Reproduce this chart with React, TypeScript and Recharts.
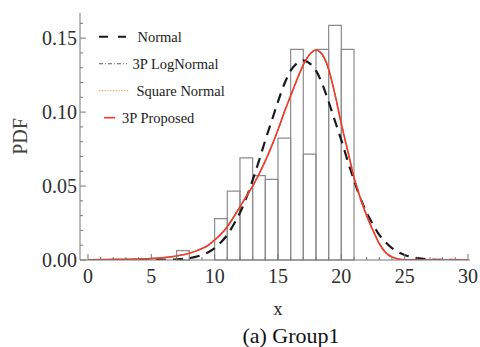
import React from "react";
import { ComposedChart, Line, XAxis, YAxis, ReferenceArea, Legend } from "recharts";

const xGrid = [
  0, 1, 2, 3, 4, 5, 6, 7, 7.5, 8, 8.5, 9, 9.5, 10, 10.5, 11, 11.5, 12, 12.5, 13,
  13.5, 14, 14.5, 15, 15.5, 16, 16.5, 17, 17.5, 18, 18.5, 19, 19.5, 20, 20.5, 21,
  21.5, 22, 22.5, 23, 23.5, 24, 24.5, 25, 25.5, 26, 27, 28, 29, 30,
];

const normalPdf = [
  0, 0, 0, 0, 0, 0, 0.0001, 0.0004, 0.0007, 0.0013, 0.0021, 0.0034, 0.0053, 0.0081,
  0.012, 0.017, 0.024, 0.032, 0.042, 0.054, 0.067, 0.081, 0.094, 0.107, 0.119, 0.128,
  0.133, 0.135, 0.133, 0.128, 0.119, 0.107, 0.094, 0.081, 0.067, 0.054, 0.042, 0.032,
  0.024, 0.017, 0.012, 0.0081, 0.0053, 0.0034, 0.0021, 0.0013, 0.0004, 0.0001, 0, 0,
];

const logNormalPdf = [
  0.0002, 0.0003, 0.0004, 0.0005, 0.0007, 0.001, 0.0016, 0.0027, 0.0035, 0.0045,
  0.006, 0.0078, 0.0101, 0.0135, 0.0176, 0.0226, 0.029, 0.036, 0.043, 0.05, 0.058,
  0.067, 0.077, 0.088, 0.1, 0.111, 0.122, 0.132, 0.139, 0.1415, 0.1385, 0.1285, 0.112,
  0.092, 0.074, 0.056, 0.042, 0.03, 0.02, 0.011, 0.005, 0.002, 0.0007, 0.0002,
  0.0001, 0, 0, 0, 0, 0,
];

const squareNormalPdf = [
  0.0001, 0.0002, 0.0003, 0.0004, 0.0006, 0.0009, 0.0015, 0.0026, 0.0034, 0.0044,
  0.0059, 0.0077, 0.01, 0.0134, 0.0175, 0.0224, 0.029, 0.036, 0.043, 0.05, 0.058,
  0.067, 0.077, 0.088, 0.1, 0.111, 0.122, 0.132, 0.139, 0.142, 0.139, 0.129, 0.1125,
  0.0925, 0.0745, 0.0565, 0.0425, 0.0305, 0.0205, 0.0115, 0.0055, 0.0022, 0.0008,
  0.0002, 0.0001, 0, 0, 0, 0, 0,
];

const proposedPdf = [
  0.0002, 0.0003, 0.0004, 0.0005, 0.0007, 0.001, 0.0016, 0.0027, 0.0035, 0.0045,
  0.006, 0.0078, 0.01, 0.0135, 0.0175, 0.0225, 0.029, 0.036, 0.043, 0.05, 0.058,
  0.067, 0.077, 0.088, 0.1, 0.111, 0.122, 0.132, 0.139, 0.142, 0.139, 0.129, 0.112,
  0.092, 0.074, 0.056, 0.042, 0.03, 0.02, 0.011, 0.005, 0.002, 0.0007, 0.0002,
  0.0001, 0, 0, 0, 0, 0,
];

// histogram bins (width 1)
const binStart = [7, 10, 11, 12, 13, 14, 15, 16, 17, 18, 19, 20];
const binHeight = [
  0.0063, 0.028, 0.0466, 0.069, 0.057, 0.0545, 0.0824, 0.1424, 0.0716, 0.1424, 0.1586,
  0.1424,
];

const xTicks = [
  0, 1, 2, 3, 4, 5, 6, 7, 8, 9, 10, 11, 12, 13, 14, 15, 16, 17, 18, 19, 20, 21, 22, 23,
  24, 25, 26, 27, 28, 29, 30,
];
const yTicks = [
  0, 0.01, 0.02, 0.03, 0.04, 0.05, 0.06, 0.07, 0.08, 0.09, 0.1, 0.11, 0.12, 0.13, 0.14,
  0.15, 0.16,
];

const seriesNames = ["Normal", "3P LogNormal", "Square Normal", "3P Proposed"];

const FONT = '"Liberation Serif", "Times New Roman", serif';
const FRAME = "#777777";
const TICK_TEXT = "#2e2e2e";

const rows = (vals: number[]) => xGrid.map((x, i) => ({ x, y: vals[i] }));

const isMajorX = (v: number) => Math.round(v) % 5 === 0;
const isMajorY = (v: number) => Math.round(v * 100) % 5 === 0;

const BottomTick = (props: any) => {
  const { x, y, payload } = props;
  const major = isMajorX(payload.value);
  return (
    <g>
      <line x1={x} x2={x} y1={y} y2={y - (major ? 6 : 3)} stroke={FRAME} strokeWidth={1} />
      {major && (
        <text x={x} y={y + 23} textAnchor="middle" fontSize={20} fontFamily={FONT} fill={TICK_TEXT}>
          {payload.value}
        </text>
      )}
    </g>
  );
};

const TopTick = (props: any) => {
  const { x, y, payload } = props;
  const major = isMajorX(payload.value);
  return <line x1={x} x2={x} y1={y} y2={y + (major ? 6 : 3)} stroke={FRAME} strokeWidth={1} />;
};

const LeftTick = (props: any) => {
  const { x, y, payload } = props;
  const major = isMajorY(payload.value);
  return (
    <g>
      <line x1={x} x2={x + (major ? 6 : 3)} y1={y} y2={y} stroke={FRAME} strokeWidth={1} />
      {major && (
        <text x={x - 3} y={y + 7} textAnchor="end" fontSize={20} fontFamily={FONT} fill={TICK_TEXT}>
          {payload.value.toFixed(2)}
        </text>
      )}
    </g>
  );
};

const RightTick = (props: any) => {
  const { x, y, payload } = props;
  const major = isMajorY(payload.value);
  return <line x1={x} x2={x - (major ? 6 : 3)} y1={y} y2={y} stroke={FRAME} strokeWidth={1} />;
};

// legend sample/label placement, relative to the legend box at (90, 20)
const legendStyles = [
  { stroke: "#1a1a1a", width: 2, dash: "9 10", x1: 9, x2: 36, tx: 47.5 },
  { stroke: "#6b5a4a", width: 1.1, dash: "4 2 1 2", x1: 9, x2: 37, tx: 42.5 },
  { stroke: "#f0a048", width: 1.3, dash: "1.2 1.6", x1: 9, x2: 39, tx: 46.5 },
  { stroke: "#ee3b2f", width: 1.6, dash: undefined, x1: 14, x2: 25, tx: 32 },
];

const LegendBox = () => (
  <svg width={200} height={120} style={{ display: "block" }}>
    {seriesNames.map((name, i) => {
      const cy = 16.7 + i * 27;
      const st = legendStyles[i];
      return (
        <g key={name}>
          <line x1={st.x1} x2={st.x2} y1={cy} y2={cy} stroke={st.stroke} strokeWidth={st.width} strokeDasharray={st.dash} />
          <text x={st.tx} y={cy + 5.5} fontSize={14.5} fontFamily={FONT} fill="#222">
            {name}
          </text>
        </g>
      );
    })}
  </svg>
);

const XLabels = (props: any) => {
  const vb = props.viewBox;
  return (
    <g fontFamily={FONT}>
      <text x={vb.x + 198} y={vb.y + 55} textAnchor="middle" fontSize={18} fill="#222">
        x
      </text>
      <text x={vb.x + 211} y={vb.y + 83} textAnchor="middle" fontSize={22} fill="#111">
        (a) Group1
      </text>
    </g>
  );
};

const YLabel = (props: any) => {
  const vb = props.viewBox;
  const cx = vb.x + 19.5;
  const cy = vb.y + vb.height / 2;
  return (
    <text
      x={cx}
      y={cy}
      transform={`rotate(-90 ${cx} ${cy})`}
      textAnchor="middle"
      dominantBaseline="central"
      fontSize={20}
      fontFamily={FONT}
      fill="#444"
    >
      PDF
    </text>
  );
};

export default function App() {
  const xDomain = [-0.63, 30.16];
  const yDomain = [0, 0.167];
  return (
    <div style={{ position: "absolute", left: 0, top: 0, width: 480, height: 347, background: "#fff" }}>
      <ComposedChart width={480} height={347} margin={{ top: 13, right: 10, bottom: 0, left: 0 }}>
        <XAxis
          xAxisId="b"
          type="number"
          dataKey="x"
          domain={xDomain}
          allowDataOverflow
          ticks={xTicks}
          interval={0}
          height={87}
          tickSize={0}
          tickMargin={0}
          tickLine={false}
          axisLine={{ stroke: FRAME }}
          tick={<BottomTick />}
          label={<XLabels />}
        />
        <XAxis
          xAxisId="t"
          orientation="top"
          type="number"
          dataKey="x"
          domain={xDomain}
          allowDataOverflow
          ticks={xTicks}
          interval={0}
          height={0}
          tickSize={0}
          tickMargin={0}
          tickLine={false}
          axisLine={{ stroke: FRAME }}
          tick={<TopTick />}
        />
        <YAxis
          yAxisId="l"
          type="number"
          domain={yDomain}
          allowDataOverflow
          ticks={yTicks}
          interval={0}
          width={80}
          tickSize={0}
          tickMargin={0}
          tickLine={false}
          axisLine={{ stroke: FRAME }}
          tick={<LeftTick />}
          label={<YLabel />}
        />
        <YAxis
          yAxisId="r"
          orientation="right"
          type="number"
          domain={yDomain}
          allowDataOverflow
          ticks={yTicks}
          interval={0}
          width={0}
          tickSize={0}
          tickMargin={0}
          tickLine={false}
          axisLine={{ stroke: FRAME }}
          tick={<RightTick />}
        />
        {binStart.map((s, i) => (
          <ReferenceArea
            key={s}
            xAxisId="b"
            yAxisId="l"
            x1={s}
            x2={s + 1}
            y1={0}
            y2={binHeight[i]}
            fill="none"
            fillOpacity={0}
            stroke="#8c8c8c"
            strokeWidth={1.2}
            strokeOpacity={1}
          />
        ))}
        <Line
          xAxisId="b"
          yAxisId="l"
          data={rows(normalPdf)}
          dataKey="y"
          name={seriesNames[0]}
          type="monotone"
          stroke="#1a1a1a"
          strokeWidth={2.2}
          strokeDasharray="10 7"
          dot={false}
          activeDot={false}
          isAnimationActive={false}
        />
        <Line
          xAxisId="b"
          yAxisId="l"
          data={rows(logNormalPdf)}
          dataKey="y"
          name={seriesNames[1]}
          type="monotone"
          stroke="#6b5a4a"
          strokeWidth={1.1}
          strokeDasharray="4 2 1 2"
          dot={false}
          activeDot={false}
          isAnimationActive={false}
        />
        <Line
          xAxisId="b"
          yAxisId="l"
          data={rows(squareNormalPdf)}
          dataKey="y"
          name={seriesNames[2]}
          type="monotone"
          stroke="#f0a048"
          strokeWidth={1.6}
          strokeDasharray="1.2 1.6"
          dot={false}
          activeDot={false}
          isAnimationActive={false}
        />
        <Line
          xAxisId="b"
          yAxisId="l"
          data={rows(proposedPdf)}
          dataKey="y"
          name={seriesNames[3]}
          type="monotone"
          stroke="#ee3b2f"
          strokeWidth={1.6}
          dot={false}
          activeDot={false}
          isAnimationActive={false}
        />
        <Legend
          layout="horizontal"
          verticalAlign="middle"
          align="center"
          content={<LegendBox />}
          wrapperStyle={{ left: 90, top: 20, width: 200, height: 120 }}
        />
      </ComposedChart>
    </div>
  );
}
